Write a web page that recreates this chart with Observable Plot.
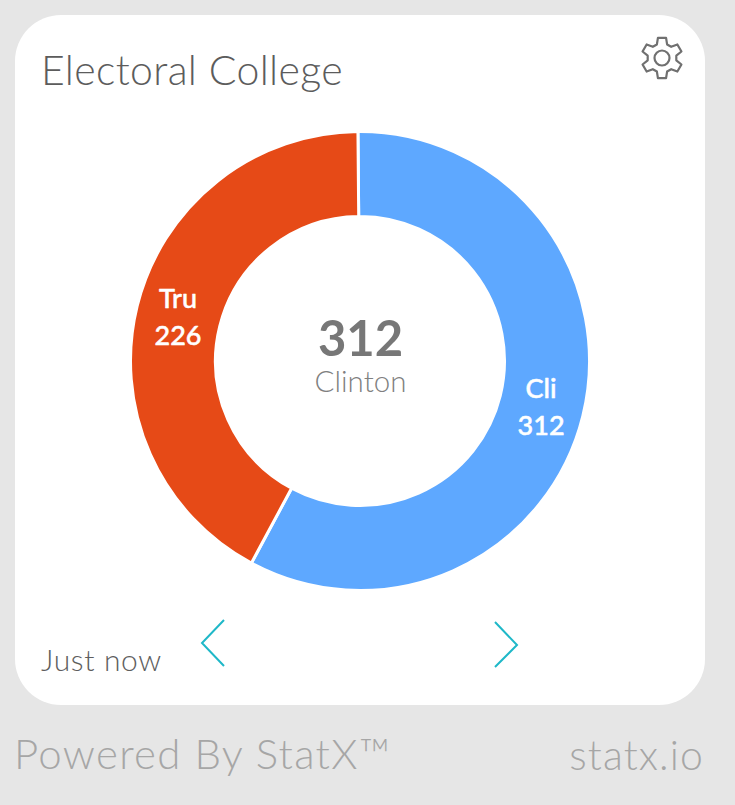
<!DOCTYPE html>
<html><head><meta charset="utf-8">
<script src="https://cdn.jsdelivr.net/npm/d3@7"></script>
<script src="https://cdn.jsdelivr.net/npm/@observablehq/plot@0.6"></script>
<style>
html,body{margin:0;padding:0;background:#e6e6e6;width:735px;height:805px;overflow:hidden}
#page{position:relative;width:735px;height:805px;font-family:Lato,sans-serif}
#card{position:absolute;left:15px;top:15px;width:690px;height:690px;background:#fff;border-radius:46px}
#chart{position:absolute;left:0;top:0}
.t{position:absolute;white-space:nowrap;font-weight:300;line-height:1}
#icons{position:absolute;left:0;top:0}
</style></head>
<body>
<div id="page">
<div id="card"></div>
<div id="chart"></div>
<div class="t" id="title" style="left:41px;top:49px;font-size:41px;letter-spacing:0.35px;color:#5c5c5c">Electoral College</div>
<div class="t" id="updated" style="left:41px;top:644px;font-size:30px;letter-spacing:0.65px;color:#5e5e5e">Just now</div>
<div class="t" id="powered" style="left:14px;top:732px;font-size:42px;letter-spacing:1.3px;color:#a6a6a6">Powered By StatX™</div>
<div class="t" id="site" style="right:31px;top:734px;font-size:41px;letter-spacing:1.1px;color:#a6a6a6">statx.io</div>
<svg id="icons" width="735" height="805" fill="none">
<polyline points="224,620 202,643 224,666" stroke="#1fb8c8" stroke-width="2"/>
<polyline points="495,622 517,645 495,667" stroke="#1fb8c8" stroke-width="2"/>
<g id="gear" transform="translate(662,58)" stroke="#707070" stroke-width="2.2" stroke-linejoin="round"></g>
</svg>
</div>
<script>
const candidates = ["Clinton", "Trump"];
const shortNames = ["Cli", "Tru"];
const votes = [312, 226];
const sliceColors = ["#5ea8ff", "#e64a17"];
const leaderVotes = "312";
const leaderName = "Clinton";

const width = 735, height = 805, cx = 360, cy = 361, outerPx = 229.5, innerRatio = 144.5 / 229.5;
const turn = -0.009;
const slices = candidates.map((name, i) => ({name, short: shortNames[i], value: votes[i]}));
const pie = d3.pie().sort(null).startAngle(turn).endAngle(2 * Math.PI + turn).value(d => d.value)(slices);
const midR = (1 + innerRatio) / 2;
const labelled = pie.map(a => {
  const m = (a.startAngle + a.endAngle) / 2;
  return {...a.data, a, lx: midR * Math.sin(m), ly: midR * Math.cos(m)};
});

const plot = Plot.plot({
  width, height, margin: 0,
  style: {background: "transparent", fontFamily: "Lato, sans-serif"},
  x: {domain: [-cx / outerPx, (width - cx) / outerPx], axis: null},
  y: {domain: [-(height - cy) / outerPx, cy / outerPx], axis: null},
  color: {domain: candidates, range: sliceColors},
  marks: [
    Plot.dot(labelled, {
      x: 0, y: 0, fill: "name", r: 1,
      render(index, scales, values) {
        const unit = scales.x(1) - scales.x(0);
        const arc = d3.arc().innerRadius(innerRatio * unit).outerRadius(unit);
        const g = d3.create("svg:g");
        for (const i of index) {
          g.append("path")
            .attr("transform", `translate(${scales.x(0)},${scales.y(0)})`)
            .attr("d", arc(labelled[i].a))
            .attr("fill", values.fill[i])
            .attr("stroke", "#fff")
            .attr("stroke-width", 3);
        }
        return g.node();
      }
    }),
    Plot.text(labelled, {
      x: "lx", y: "ly", text: d => `${d.short}\n${d.value}`, dy: -2, dx: -1,
      fill: "#fff", stroke: "#fff", strokeWidth: 0.5, fontSize: 27, fontWeight: 500, lineHeight: 1.37
    }),
    Plot.text([leaderVotes], {x: 0, y: 0.092, text: d => d, fill: "#777", fontSize: 49, fontWeight: 700}),
    Plot.text([leaderName], {x: 0, y: -0.09, text: d => d, fill: "#808080", fontSize: 29.5, fontWeight: 300})
  ]
});
document.getElementById("chart").appendChild(plot);

// settings gear outline
const teeth = 6, ro = 20.5, ri = 14.5, pts = [];
for (let k = 0; k < teeth; k++) {
  const c = k * 2 * Math.PI / teeth;
  for (const [r, off] of [[ri, -0.36], [ro, -0.2], [ro, 0.2], [ri, 0.36]]) {
    pts.push([r * Math.sin(c + off), -r * Math.cos(c + off)]);
  }
}
const gear = d3.select("#gear");
gear.append("path").attr("d", "M" + pts.map(p => p.map(v => v.toFixed(2)).join(",")).join("L") + "Z");
gear.append("circle").attr("r", 7.5);
</script>
</body></html>
